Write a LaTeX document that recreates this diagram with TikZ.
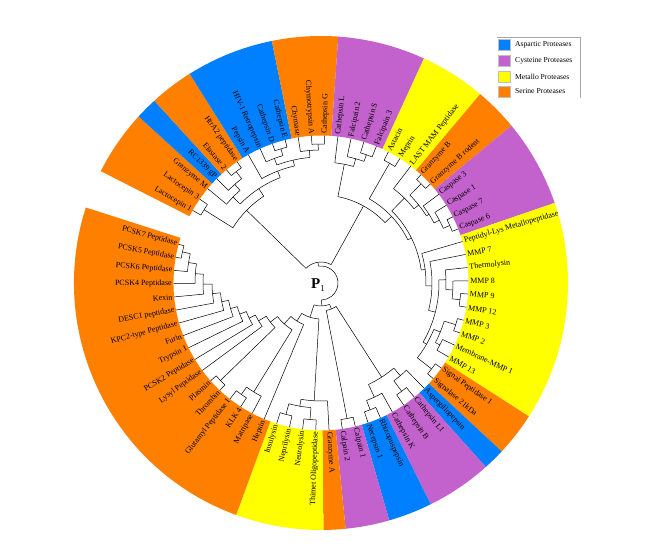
\documentclass[tikz,border=0pt]{standalone}
\usepackage{fontspec}
\setmainfont{Liberation Serif}
\definecolor{asp}{RGB}{0,128,255}
\definecolor{cys}{RGB}{195,98,204}
\definecolor{met}{RGB}{255,255,0}
\definecolor{ser}{RGB}{255,128,0}
% annular sector for leaves #2..#3
\newcommand\Sec[3]{%
 \pgfmathsetmacro\tA{150.5-(#2-1.5)*5.16}%
 \pgfmathsetmacro\tB{150.5-(#3-0.5)*5.16}%
 \fill[#1] (\tA:147.5) arc[start angle=\tA,end angle=\tB,radius=147.5] -- (\tB:247) arc[start angle=\tB,end angle=\tA,radius=247] -- cycle;}
% leaf branch: index, parent radius
\newcommand\Lf[2]{%
 \pgfmathsetmacro\tA{150.5-(#1-1)*5.16}%
 \draw[br] (\tA:#2) -- (\tA:147.5);}
% internal node: position, radius, parent radius, first child, last child
\newcommand\In[5]{%
 \pgfmathsetmacro\tA{150.5-(#1-1)*5.16}%
 \pgfmathsetmacro\tB{150.5-(#4-1)*5.16}%
 \pgfmathsetmacro\tC{150.5-(#5-1)*5.16}%
 \draw[br] (\tA:#3) -- (\tA:#2);
 \draw[br] (\tB:#2) arc[start angle=\tB,end angle=\tC,radius=#2];}
% leaf label
\newcommand\Lb[2]{%
 \pgfmathsetmacro\tA{150.5-(#1-1)*5.16}%
 \pgfmathtruncatemacro\lft{or(\tA>90,\tA<-90)}%
 \ifnum\lft=1
  \pgfmathsetmacro\tR{\tA+180}%
  \node[lbl,anchor=east,rotate=\tR] (L#1) at (\tA:148.5) {#2};
 \else
  \node[lbl,anchor=west,rotate=\tA] (L#1) at (\tA:148.5) {#2};
 \fi}
\begin{document}
\begin{tikzpicture}[x=1pt,y=1pt,
  br/.style={draw=black,line width=0.5pt},
  lbl/.style={font=\fontsize{8}{9}\selectfont,inner sep=0.6pt},
  legtxt/.style={font=\fontsize{7.6}{9}\selectfont,anchor=west,inner sep=0pt},
  legbox/.style={draw=gray!50,line width=0.3pt}]
\useasboundingbox (-321,-265) rectangle (346,283);
\fill[white] (-321,-265) rectangle (346,283);
% coloured ring
\Sec{ser}{1}{3}
\Sec{asp}{4}{4}
\Sec{ser}{5}{6}
\Sec{asp}{7}{10}
\Sec{ser}{11}{13}
\Sec{cys}{14}{17}
\Sec{met}{18}{20}
\Sec{ser}{21}{22}
\Sec{cys}{23}{26}
\Sec{met}{27}{36}
\Sec{ser}{37}{38}
\Sec{asp}{39}{39}
\Sec{cys}{40}{42}
\Sec{asp}{43}{44}
\Sec{cys}{45}{46}
\Sec{ser}{47}{47}
\Sec{met}{48}{51}
\Sec{ser}{52}{68}
% leaves
\Lf{1}{138}\Lf{2}{138}\Lf{3}{123}\Lf{4}{131}\Lf{5}{140}\Lf{6}{140}\Lf{7}{120}
\Lf{8}{133}\Lf{9}{140}\Lf{10}{140}\Lf{11}{133}\Lf{12}{139}\Lf{13}{139}
\Lf{14}{121}\Lf{15}{129}\Lf{16}{136}\Lf{17}{136}\Lf{18}{138}\Lf{19}{138}
\Lf{20}{119}\Lf{21}{141}\Lf{22}{141}\Lf{23}{128}\Lf{24}{134}\Lf{25}{141}\Lf{26}{141}
\Lf{27}{105}\Lf{28}{111}\Lf{29}{125}\Lf{30}{132}\Lf{31}{140}\Lf{32}{140}
\Lf{33}{141}\Lf{34}{141}\Lf{35}{134}\Lf{36}{134}\Lf{37}{140}\Lf{38}{140}
\Lf{39}{122}\Lf{40}{135}\Lf{41}{135}\Lf{42}{126}\Lf{43}{136}\Lf{44}{136}
\Lf{45}{138}\Lf{46}{138}\Lf{47}{118}\Lf{48}{137}\Lf{49}{137}\Lf{50}{136}\Lf{51}{136}
\Lf{52}{45}\Lf{53}{128}\Lf{54}{137}\Lf{55}{137}\Lf{56}{140}\Lf{57}{140}
\Lf{58}{73}\Lf{59}{80}\Lf{60}{87}\Lf{61}{94}\Lf{62}{101}\Lf{63}{109}
\Lf{64}{118}\Lf{65}{126}\Lf{66}{134}\Lf{67}{142}\Lf{68}{142}
% internal nodes
\In{1.5}{138}{104}{1}{2}
\In{5.5}{140}{131}{5}{6}
\In{4.75}{131}{123}{4}{5.5}
\In{3.875}{123}{113}{3}{4.75}
\In{9.5}{140}{133}{9}{10}
\In{8.75}{133}{126}{8}{9.5}
\In{12.5}{139}{133}{12}{13}
\In{11.75}{133}{126}{11}{12.5}
\In{10.25}{126}{120}{8.75}{11.75}
\In{8.625}{120}{113}{7}{10.25}
\In{6.25}{113}{104}{3.875}{8.625}
\In{3.875}{104}{21}{1.5}{6.25}
\In{16.5}{136}{129}{16}{17}
\In{15.75}{129}{121}{15}{16.5}
\In{14.875}{121}{88}{14}{15.75}
\In{18.5}{138}{97}{18}{19}
\In{21.5}{141}{125}{21}{22}
\In{25.5}{141}{134}{25}{26}
\In{24.75}{134}{128}{24}{25.5}
\In{23.875}{128}{125}{23}{24.75}
\In{22.6875}{125}{119}{21.5}{23.875}
\In{21.34375}{119}{101}{20}{22.6875}
\In{31.5}{140}{132}{31}{32}
\In{30.75}{132}{125}{30}{31.5}
\In{29.875}{125}{118}{29}{30.75}
\In{33.5}{141}{129}{33}{34}
\In{35.5}{134}{129}{35}{36}
\In{34.5}{129}{122}{33.5}{35.5}
\In{37.5}{140}{122}{37}{38}
\In{36}{122}{118}{34.5}{37.5}
\In{32.9375}{118}{111}{29.875}{36}
\In{30.46875}{111}{105}{28}{32.9375}
\In{28.734375}{105}{101}{27}{30.46875}
\In{25.0390625}{101}{97}{21.34375}{28.734375}
\In{21.76953}{97}{88}{18.5}{25.0390625}
\In{18.32227}{88}{21}{14.875}{21.76953}
\In{11.09863}{21}{17}{3.875}{18.32227}
\In{40.5}{135}{122}{40}{41}
\In{39.75}{122}{112}{39}{40.5}
\In{43.5}{136}{126}{43}{44}
\In{42.75}{126}{112}{42}{43.5}
\In{41.25}{112}{28}{39.75}{42.75}
\In{45.5}{138}{28}{45}{46}
\In{43.375}{28}{23}{41.25}{45.5}
\In{48.5}{137}{125}{48}{49}
\In{50.5}{136}{125}{50}{51}
\In{49.5}{125}{118}{48.5}{50.5}
\In{48.25}{118}{36}{47}{49.5}
\In{67.5}{142}{134}{67}{68}
\In{66.75}{134}{126}{66}{67.5}
\In{65.875}{126}{118}{65}{66.75}
\In{64.9375}{118}{109}{64}{65.875}
\In{63.96875}{109}{101}{63}{64.9375}
\In{62.984375}{101}{94}{62}{63.96875}
\In{61.9921875}{94}{87}{61}{62.984375}
\In{60.99609}{87}{80}{60}{61.9921875}
\In{59.99805}{80}{73}{59}{60.99609}
\In{58.99902}{73}{64}{58}{59.99805}
\In{56.5}{140}{64}{56}{57}
\In{57.74951}{64}{55}{56.5}{58.99902}
\In{54.5}{137}{128}{54}{55}
\In{53.75}{128}{55}{53}{54.5}
\In{55.74976}{55}{45}{53.75}{57.74951}
\In{53.87488}{45}{36}{52}{55.74976}
\In{51.06244}{36}{23}{48.25}{53.87488}
\In{47.21872}{23}{17}{43.375}{51.06244}
\In{29.16}{17}{17}{11.09863}{47.21872}
% root label
\node[inner sep=0pt] (P1) at (-3,-2) {\fontsize{15}{15}\selectfont\bfseries P\raisebox{-0.2em}{\fontsize{9}{9}\selectfont\mdseries 1}};
% labels
\Lb{1}{Lactocepin 1}
\Lb{2}{Lactocepin 3}
\Lb{3}{Granzyme M}
\Lb{4}{RC1339 gP}
\Lb{5}{Elastase 2}
\Lb{6}{HtrA2 peptidase}
\Lb{7}{Pepsin A}
\Lb{8}{HIV-1 Retropepsin}
\Lb{9}{Cathepsin D}
\Lb{10}{Cathepsin E}
\Lb{11}{Chymase}
\Lb{12}{Chymotrypsin A}
\Lb{13}{Cathepsin G}
\Lb{14}{Cathepsin L}
\Lb{15}{Falcipain 2}
\Lb{16}{Cathepsin S}
\Lb{17}{Falcipain 3}
\Lb{18}{Astacin}
\Lb{19}{Meprin}
\Lb{20}{LAST MAM Peptidase}
\Lb{21}{Granzyme B}
\Lb{22}{Granzyme B rodent}
\Lb{23}{Caspase 3}
\Lb{24}{Caspase 1}
\Lb{25}{Caspase 7}
\Lb{26}{Caspase 6}
\Lb{27}{Peptidyl-Lys Metallopeptidase}
\Lb{28}{MMP 7}
\Lb{29}{Thermolysin}
\Lb{30}{MMP 8}
\Lb{31}{MMP 9}
\Lb{32}{MMP 12}
\Lb{33}{MMP 3}
\Lb{34}{MMP 2}
\Lb{35}{Membrane-MMP 1}
\Lb{36}{MMP 13}
\Lb{37}{Signal Peptidase 1}
\Lb{38}{Signalase 21kDa}
\Lb{39}{Aspergillopepsin}
\Lb{40}{Cathepsin L1}
\Lb{41}{Cathepsin B}
\Lb{42}{Cathepsin K}
\Lb{43}{Rhizopuspepsin}
\Lb{44}{Necepsin 1}
\Lb{45}{Calpain 1}
\Lb{46}{Calpain 2}
\Lb{47}{Granzyme A}
\Lb{48}{Thimet Oligopeptidase}
\Lb{49}{Neurolysin}
\Lb{50}{Neprilysin}
\Lb{51}{Insulysin}
\Lb{52}{Hepsin}
\Lb{53}{Matripase}
\Lb{54}{KLK 4}
\Lb{55}{Glutamyl Peptidase I}
\Lb{56}{Thrombin}
\Lb{57}{Plasmin}
\Lb{58}{Lysyl Peptidase}
\Lb{59}{PCSK2 Peptidase}
\Lb{60}{Trypsin 1}
\Lb{61}{Furin}
\Lb{62}{KPC2-type Peptidase}
\Lb{63}{DESC1 peptidase}
\Lb{64}{Kexin}
\Lb{65}{PCSK4 Peptidase}
\Lb{66}{PCSK6 Peptidase}
\Lb{67}{PCSK5 Peptidase}
\Lb{68}{PCSK7 Peptidase}
% legend
\coordinate (lgA) at (176,246);
\coordinate (lgB) at (259,246);
\coordinate (lgC) at (259,185);
\draw[gray!70,line width=0.5pt] (lgA) -- (lgB) -- (lgC);
\fill[asp,legbox] (177.5,232.5) rectangle (189,243.5);
\fill[cys,legbox] (177.5,217) rectangle (189,228);
\fill[met,legbox] (177.5,201) rectangle (189,212);
\fill[ser,legbox] (177.5,186) rectangle (189,197);
\node[legtxt] (lg1) at (194,238) {Aspartic Proteases};
\node[legtxt] (lg2) at (194,222.5) {Cysteine Proteases};
\node[legtxt] (lg3) at (194,206.5) {Metallo Proteases};
\node[legtxt] (lg4) at (194,191.5) {Serine Proteases};
\end{tikzpicture}
\end{document}
